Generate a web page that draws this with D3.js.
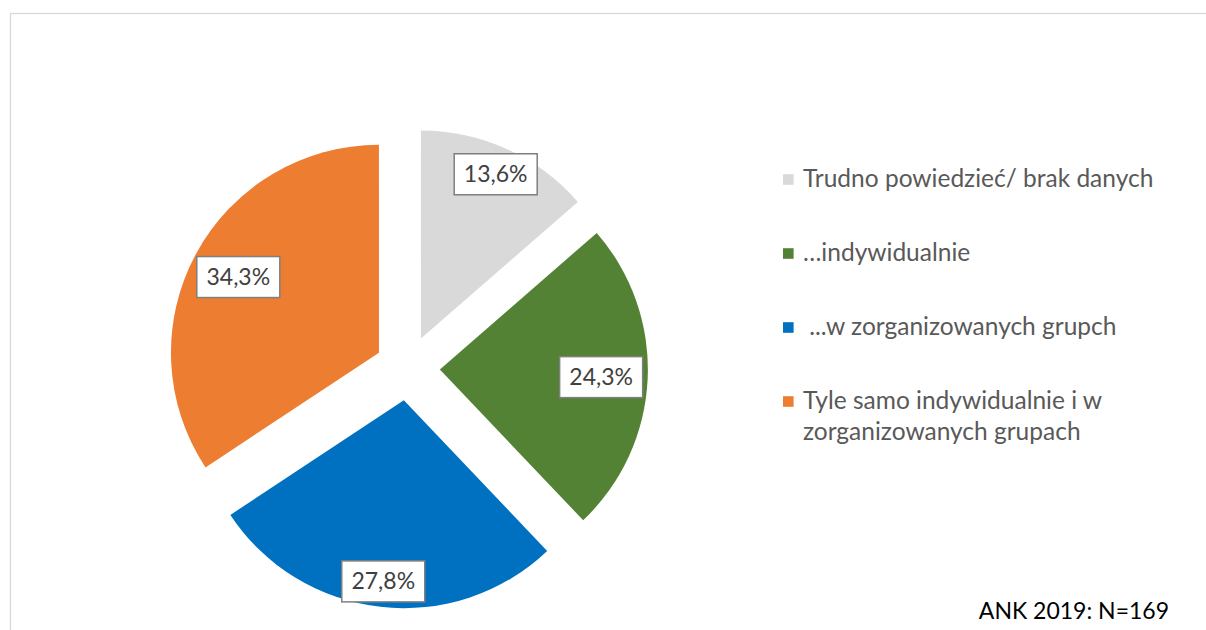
<!DOCTYPE html>
<html>
<head>
<meta charset="utf-8">
<script src="https://cdn.jsdelivr.net/npm/d3@7"></script>
<style>
	body { margin: 0; background: #fff; }
	svg { display: block; font-family: Lato, "Open Sans", sans-serif; }
</style>
</head>
<body>
<svg width="1206" height="630"></svg>
<script>
// ---- data ----
const categories = ["Trudno powiedzieć/ brak danych", "…indywidualnie", " ...w zorganizowanych grupch", "Tyle samo indywidualnie i w|zorganizowanych grupach"];
const values = [13.6, 24.3, 27.8, 34.3];
const valueLabels = ["13,6%", "24,3%", "27,8%", "34,3%"];
const colors = ["#d9d9d9", "#548235", "#0070c0", "#ed7d31"];
const note = "ANK 2019: N=169";

const svg = d3.select("svg");

// chart frame (only top and left edges show)
svg.append("rect")
	.attr("x", 10.5).attr("y", 13.5)
	.attr("width", 1300).attr("height", 700)
	.attr("fill", "none").attr("stroke", "#d9d9d9").attr("stroke-width", 1.3);

//============= Pie =============
const cx = 407.5, cy = 368, R = 208, explode = 32.4;

const pie = d3.pie().sort(null).value(d => d);
const arc = d3.arc().innerRadius(0).outerRadius(R);
const arcs = pie(values);

const g = svg.append("g").attr("transform", "translate(" + cx + "," + cy + ")");

function mid(d) { return (d.startAngle + d.endAngle) / 2; }

g.selectAll("path").data(arcs).enter().append("path")
	.attr("d", arc)
	.attr("fill", (d, i) => colors[i])
	.attr("transform", function(d) {
		let a = mid(d);
		return "translate(" + (explode * Math.sin(a)) + "," + (-explode * Math.cos(a)) + ")";
	});

// data labels, "inside end"
const boxW = 83, boxH = 41;
const lab = g.selectAll("g.lab").data(arcs).enter().append("g")
	.attr("class", "lab")
	.attr("transform", function(d) {
		let a = mid(d);
		let s = Math.sin(a), c = Math.cos(a);
		let ext = Math.min(Math.abs(s) > 1e-6 ? (boxW / 2) / Math.abs(s) : 1e9,
			Math.abs(c) > 1e-6 ? (boxH / 2) / Math.abs(c) : 1e9);
		let r = explode + R - ext - 5;
		return "translate(" + (r * s) + "," + (-r * c) + ")";
	});

lab.append("rect")
	.attr("x", -boxW / 2).attr("y", -boxH / 2)
	.attr("width", boxW).attr("height", boxH)
	.attr("fill", "#fff").attr("stroke", "#7f7f7f").attr("stroke-width", 1.5);

lab.append("text")
	.attr("text-anchor", "middle")
	.attr("dy", "0.35em")
	.attr("font-size", 23)
	.attr("fill", "#404040")
	.text((d, i) => valueLabels[i]);

//============= Legend =============
const legY = d3.scalePoint().domain(d3.range(categories.length)).range([179.5, 401.5]);

const leg = svg.append("g").selectAll("g").data(categories).enter().append("g")
	.attr("transform", (d, i) => "translate(783," + legY(i) + ")");

leg.append("rect")
	.attr("x", 0).attr("y", -5.3)
	.attr("width", 10.6).attr("height", 10.6)
	.attr("fill", (d, i) => colors[i]);

leg.append("text")
	.attr("x", 20)
	.attr("y", 7.5)
	.attr("font-size", 24.5)
	.attr("fill", "#595959")
	.style("white-space", "pre")
	.each(function(d) {
		let lines = d.split("|");
		let t = d3.select(this);
		lines.forEach(function(line, k) {
			t.append("tspan").attr("x", 20).attr("dy", k === 0 ? 0 : 31).text(line);
		});
	});

// footnote
svg.append("text")
	.attr("x", 1169).attr("y", 619)
	.attr("text-anchor", "end")
	.attr("font-size", 23)
	.attr("fill", "#000")
	.text(note);
</script>
</body>
</html>
